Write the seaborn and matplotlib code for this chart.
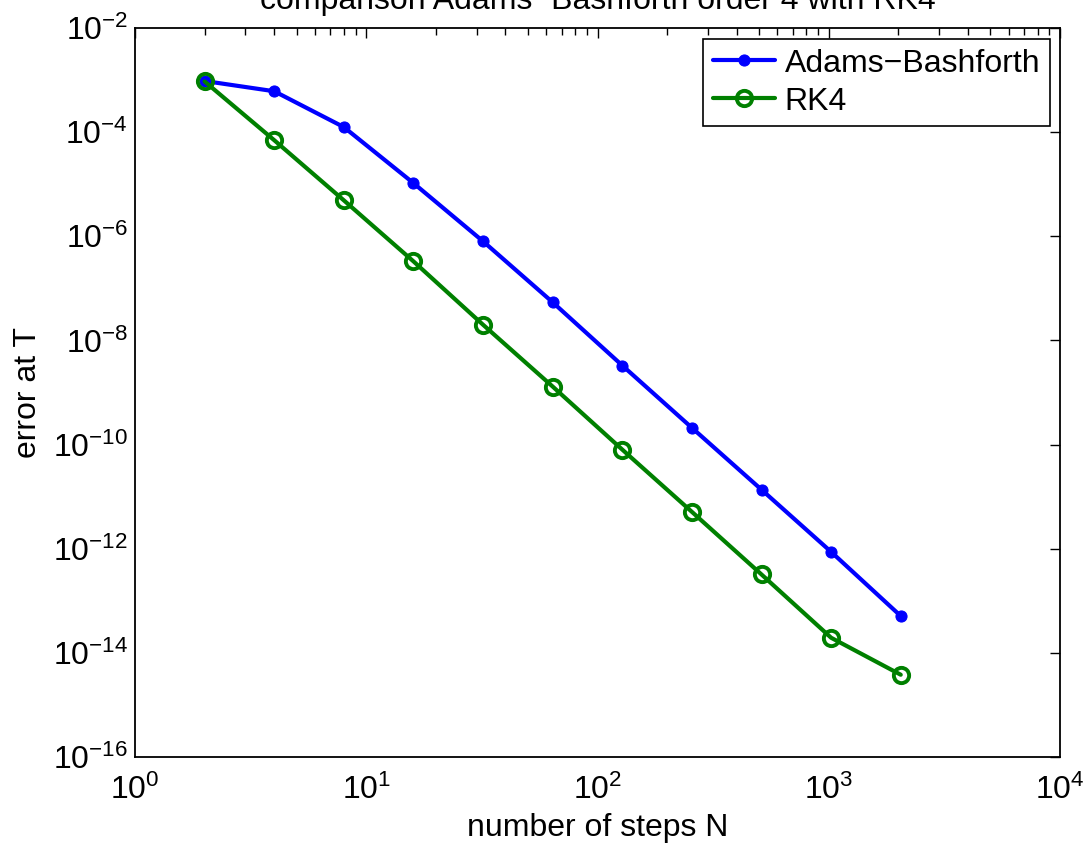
import numpy as np
import pandas as pd
import matplotlib
matplotlib.use('Agg')
import matplotlib.pyplot as plt
import matplotlib.ticker as mticker
import seaborn as sns

# step counts and errors
steps = [2, 4, 8, 16, 32, 64, 128, 256, 512, 1024, 2048]
err_ab = [9.6e-4, 6.1e-4, 1.25e-4, 1.05e-5, 8.0e-7, 5.4e-8, 3.3e-9,
          2.1e-10, 1.36e-11, 8.7e-13, 5.1e-14]
err_rk4 = [9.4e-4, 7.0e-5, 4.9e-6, 3.3e-7, 2.0e-8, 1.3e-9, 8.0e-11,
           5.1e-12, 3.2e-13, 1.95e-14, 3.8e-15]
x_ticks = [1e0, 1e1, 1e2, 1e3, 1e4]
x_ticklabels = ['$10^{0}$', '$10^{1}$', '$10^{2}$', '$10^{3}$', '$10^{4}$']
y_ticks = [1e-16, 1e-14, 1e-12, 1e-10, 1e-8, 1e-6, 1e-4, 1e-2]
y_ticklabels = ['$10^{-16}$', '$10^{-14}$', '$10^{-12}$', '$10^{-10}$',
                '$10^{-8}$', '$10^{-6}$', '$10^{-4}$', '$10^{-2}$']

df = pd.DataFrame({'N': steps, 'AB': err_ab, 'RK4': err_rk4})

sns.set_style('white')
plt.rcParams['font.family'] = ['Liberation Sans', 'DejaVu Sans']
plt.rcParams['mathtext.fontset'] = 'custom'
plt.rcParams['mathtext.rm'] = 'Liberation Sans'
plt.rcParams['mathtext.it'] = 'Liberation Sans:italic'
plt.rcParams['mathtext.bf'] = 'Liberation Sans:bold'
plt.rcParams['text.color'] = 'black'
plt.rcParams['axes.labelcolor'] = 'black'
plt.rcParams['xtick.color'] = 'black'
plt.rcParams['ytick.color'] = 'black'

fig = plt.figure(figsize=(10.86, 8.48), dpi=100)
ax = fig.add_axes([135/1086, 1 - 757/848, 925/1086, 729/848])

sns.lineplot(data=df, x='N', y='AB', ax=ax, color='#0000ff', lw=3,
             marker='o', markersize=8, markeredgecolor='#0000ff',
             label='Adams\u2212Bashforth')
sns.lineplot(data=df, x='N', y='RK4', ax=ax, color='#008000', lw=3,
             marker='o', markersize=11, markerfacecolor='none',
             markeredgecolor='#008000', markeredgewidth=2.8, label='RK4')

ax.set_xscale('log')
ax.set_yscale('log')
ax.set_xlim(1, 1e4)
ax.set_ylim(1e-16, 1e-2)

ax.set_xticks(x_ticks)
ax.set_xticklabels(x_ticklabels)
ax.xaxis.set_minor_locator(mticker.LogLocator(base=10, subs=np.arange(2, 10)))
ax.xaxis.set_minor_formatter(mticker.NullFormatter())
ax.set_yticks(y_ticks)
ax.set_yticklabels(y_ticklabels)
ax.yaxis.set_minor_locator(mticker.NullLocator())

ax.tick_params(which='both', direction='in', top=True, right=True,
               labelsize=23, color='black', labelcolor='black', width=1)
ax.tick_params(which='major', length=7)
ax.tick_params(which='minor', length=5)
ax.tick_params(axis='x', which='major', pad=13)
ax.tick_params(axis='y', which='major', pad=5)

for s in ax.spines.values():
    s.set_visible(True)
    s.set_color('black')
    s.set_linewidth(1.3)

ax.set_xlabel('number of steps N', fontsize=23, labelpad=5, color='black')
ax.set_ylabel('error at T', fontsize=23, labelpad=7, color='black')
ax.set_title('comparison Adams\u2212Bashforth order 4 with RK4',
             fontsize=23, pad=14, color='black')

leg = ax.legend(loc='upper right', bbox_to_anchor=(1 - 10/925, 1 - 11/729),
                borderaxespad=0, fontsize=23, fancybox=False,
                edgecolor='black', framealpha=1, numpoints=1,
                handlelength=1.95, handletextpad=0.3, labelspacing=0.25,
                borderpad=0.3)
leg.get_frame().set_linewidth(1.2)
for t in leg.get_texts():
    t.set_color('black')

fig.savefig('out.png', dpi=100)
